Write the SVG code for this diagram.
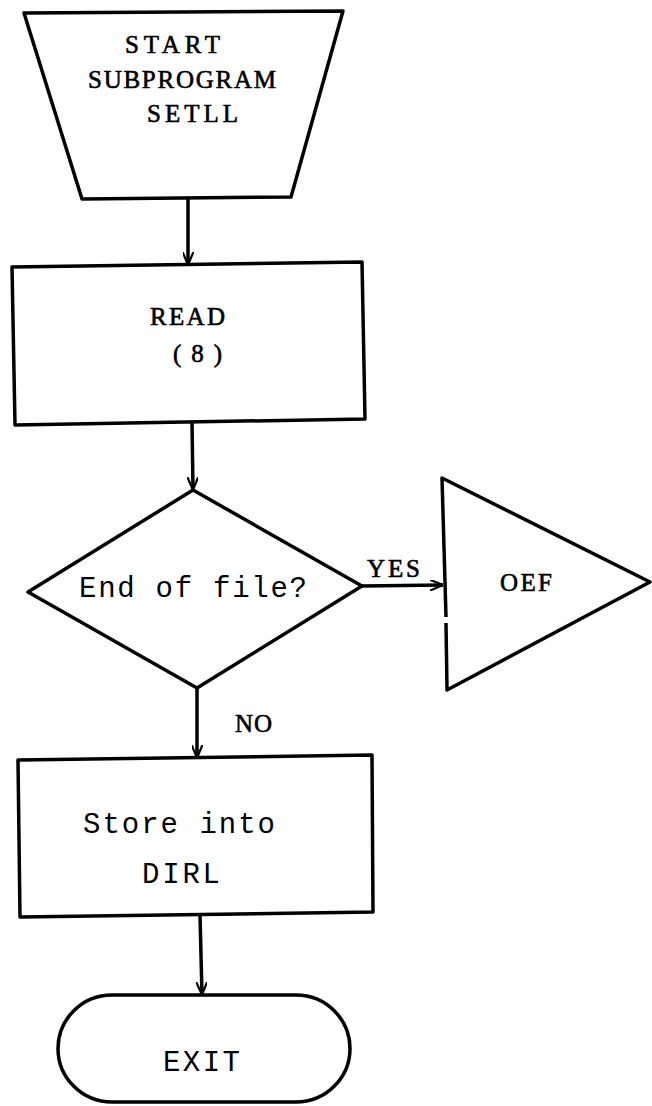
<svg xmlns="http://www.w3.org/2000/svg" width="652" height="1106" viewBox="0 0 652 1106">
<style>
.shape{fill:#fff;stroke:#000;stroke-width:3.5;stroke-linejoin:round}
.conn{fill:none;stroke:#000;stroke-width:3.5}
.serif{font-family:"Liberation Serif","Times New Roman",serif;font-size:25px;fill:#000;stroke:#000;stroke-width:0.6}
.mono{font-family:"Liberation Mono","Courier New",monospace;font-size:29px;fill:#000}
</style>
<defs>
<marker id="arr" viewBox="0 0 12 10" refX="12" refY="5" markerWidth="13" markerHeight="11" markerUnits="userSpaceOnUse" orient="auto">
<path d="M0,0 L12,5 L0,10" fill="none" stroke="#000" stroke-width="2"/>
</marker>
</defs>
<rect width="652" height="1106" fill="#fff"/>
<g id="connectors">
<path class="conn" d="M188,199 L188,265" marker-end="url(#arr)"/>
<path class="conn" d="M192,422 L193,490" marker-end="url(#arr)"/>
<path class="conn" d="M362,586 L443,585" marker-end="url(#arr)"/>
<path class="conn" d="M197,688 L197,758" marker-end="url(#arr)"/>
<path class="conn" d="M200,915 L202,995" marker-end="url(#arr)"/>
</g>
<g id="start">
<polygon class="shape" points="24,13 343,11 291,197 82,199"/>
<text class="serif" x="125" y="53" textLength="95" lengthAdjust="spacing">START</text>
<text class="serif" x="88" y="88" textLength="188" lengthAdjust="spacing">SUBPROGRAM</text>
<text class="serif" x="147" y="122" textLength="91" lengthAdjust="spacing">SETLL</text>
</g>
<g id="read">
<polygon class="shape" points="12,267 362,262 365,419 15,425"/>
<text class="serif" x="150" y="325" textLength="75" lengthAdjust="spacing">READ</text>
<text class="serif" x="173" y="362" textLength="49" lengthAdjust="spacing">(8)</text>
</g>
<g id="decision">
<polygon class="shape" points="193,490 362,586 197,688 28,592"/>
<text class="mono" x="79" y="597" textLength="228" lengthAdjust="spacing">End of file?</text>
</g>
<g id="labels">
<text class="serif" x="367" y="577" textLength="53" lengthAdjust="spacing">YES</text>
<text class="serif" x="235" y="732" textLength="37" lengthAdjust="spacing">NO</text>
</g>
<g id="oef">
<path class="shape" d="M446,617 L442,478 L650,582 L447,690 L446,623"/>
<text class="serif" x="500" y="591" textLength="52" lengthAdjust="spacing">OEF</text>
</g>
<g id="store">
<polygon class="shape" points="18,760 372,755 373,912 20,917"/>
<text class="mono" x="83" y="833" textLength="192" lengthAdjust="spacing">Store into</text>
<text class="mono" x="142" y="883" textLength="78" lengthAdjust="spacing">DIRL</text>
</g>
<g id="exit">
<rect class="shape" x="58" y="995" width="292" height="107" rx="54" ry="54"/>
<text class="mono" x="163" y="1071" textLength="77" lengthAdjust="spacing">EXIT</text>
</g>
</svg>
